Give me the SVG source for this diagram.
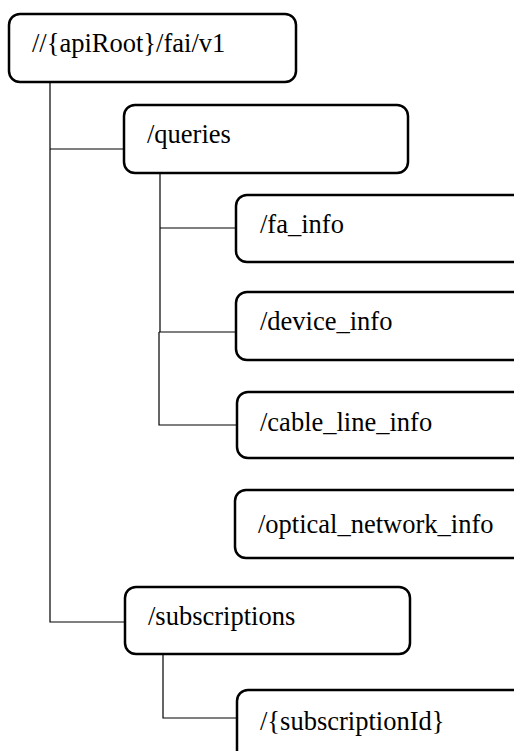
<svg xmlns="http://www.w3.org/2000/svg" width="514" height="751" viewBox="0 0 514 751">
<style>
.box{fill:#fff;stroke:#000;stroke-width:2.5}
.lbl{font-family:"Liberation Serif","Times New Roman",serif;font-size:26.5px;fill:#000}
.con{fill:none;stroke:#000;stroke-width:1.2}
</style>
<rect width="514" height="751" fill="#fff"/>
<g id="connectors">
<path class="con" d="M50 82V622H125M50 149H124"/>
<path class="con" d="M160 173V332M159 332V425H237M160 228H236M159 332H236"/>
<path class="con" d="M163 652V718H237"/>
</g>
<g id="root"><rect class="box" x="9" y="14" width="287" height="68" rx="11"/><text class="lbl" x="32" y="52">//{apiRoot}/fai/v1</text></g>
<g id="queries"><rect class="box" x="124" y="105" width="284" height="68" rx="11"/><text class="lbl" x="147" y="143">/queries</text></g>
<g id="fa_info"><rect class="box" x="236" y="195" width="300" height="67" rx="11"/><text class="lbl" x="260" y="233">/fa_info</text></g>
<g id="device_info"><rect class="box" x="236" y="292" width="300" height="68" rx="11"/><text class="lbl" x="260" y="330">/device_info</text></g>
<g id="cable_line_info"><rect class="box" x="237" y="392" width="300" height="66" rx="11"/><text class="lbl" x="260" y="431">/cable_line_info</text></g>
<g id="optical_network_info"><rect class="box" x="235" y="490" width="300" height="68" rx="11"/><text class="lbl" x="258" y="533">/optical_network_info</text></g>
<g id="subscriptions"><rect class="box" x="125" y="587" width="285" height="67" rx="11"/><text class="lbl" x="148" y="625">/subscriptions</text></g>
<g id="subscriptionId"><rect class="box" x="237" y="690" width="300" height="80" rx="11"/><text class="lbl" x="260" y="730">/{subscriptionId}</text></g>
</svg>
